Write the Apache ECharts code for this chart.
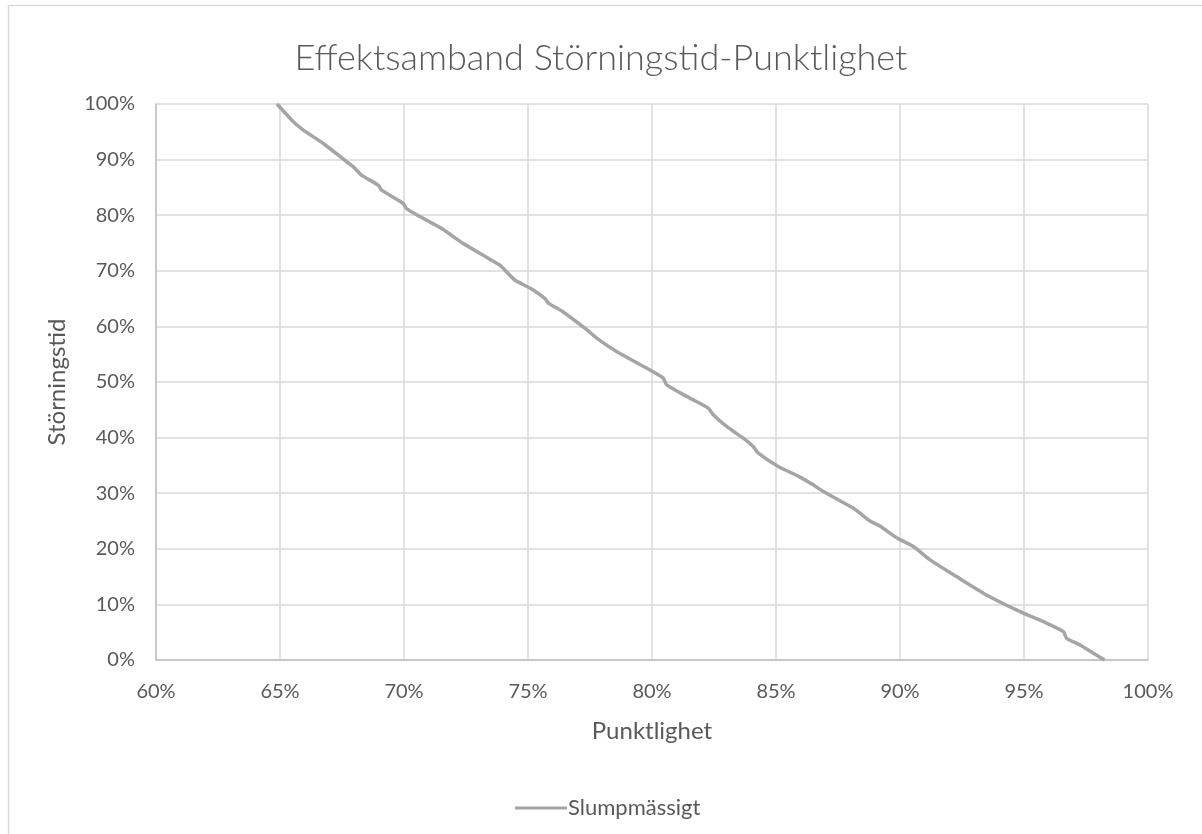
<!DOCTYPE html>
<html>
<head>
<meta charset="utf-8">
<script src="https://cdn.jsdelivr.net/npm/echarts@6/dist/echarts.min.js"></script>
<style>
html,body{margin:0;padding:0;background:#fff;}
#chart{width:1202px;height:834px;}
</style>
</head>
<body>
<div id="chart"></div>
<script>
const titleText = 'Effektsamband Störningstid-Punktlighet';
const xName = 'Punktlighet';
const yName = 'Störningstid';
const seriesName = 'Slumpmässigt';

const punktlighet = [64.88,65.54,65.94,66.75,67.69,67.96,68.29,68.96,69.10,69.97,70.10,70.78,71.52,72.39,73.87,74.14,74.48,75.08,75.69,75.82,76.42,77.37,77.77,78.57,79.78,80.45,80.59,81.53,82.27,82.47,83.01,83.68,84.08,84.29,85.09,85.97,86.50,86.91,88.12,88.39,88.79,89.19,89.86,90.54,91.21,92.28,93.49,94.84,95.78,96.59,96.72,97.26,97.80,98.25];
const storningstid = [100,96.8,95.3,92.9,89.6,88.7,87.2,85.4,84.5,82.1,81.2,79.4,77.6,74.9,71.0,69.8,68.3,66.9,65.0,64.2,62.6,59.4,57.9,55.5,52.5,50.7,49.5,47.1,45.3,44.1,42.0,39.9,38.4,37.2,34.8,32.9,31.5,30.3,27.3,26.4,25.0,24.1,22.0,20.4,18.0,15.0,11.7,8.7,6.9,5.1,3.9,2.7,1.2,0];

const xMin = 60, xMax = 100, xStep = 5;
const yMin = 0, yMax = 100, yStep = 10;

const FONT = 'Lato, "Open Sans", sans-serif';
const TXT = '#595959';

const chart = echarts.init(document.getElementById('chart'), null, {renderer: 'canvas'});
chart.setOption({
  animation: false,
  backgroundColor: '#ffffff',
  textStyle: {fontFamily: FONT},
  graphic: [{
    type: 'rect', silent: true, z: -1,
    shape: {x: 8.5, y: 5.5, width: 1400, height: 1000},
    style: {fill: 'none', stroke: '#d9d9d9', lineWidth: 1.5}
  }],
  title: {
    text: titleText,
    left: 'center',
    top: 35,
    textStyle: {fontFamily: FONT, fontSize: 36, fontWeight: 300, color: TXT}
  },
  legend: {
    data: [{name: seriesName, icon: 'rect'}],
    left: 510,
    top: 792,
    itemWidth: 52,
    itemHeight: 3,
    itemGap: 10,
    textStyle: {fontFamily: FONT, fontSize: 22, color: TXT, padding: [0,0,0,-4]}
  },
  grid: {left: 156, right: 54, top: 104, bottom: 174, containLabel: false},
  xAxis: {
    type: 'value',
    min: xMin, max: xMax, interval: xStep,
    name: xName, nameLocation: 'middle', nameGap: 59, nameMoveOverlap: false,
    nameTextStyle: {fontFamily: FONT, fontSize: 24, color: TXT},
    axisLine: {show: true, lineStyle: {color: '#bfbfbf', width: 1.5}},
    axisTick: {show: false},
    axisLabel: {formatter: '{value}%', fontFamily: FONT, fontSize: 20, color: TXT, margin: 22},
    splitLine: {show: true, lineStyle: {color: '#d9d9d9', width: 1.5}}
  },
  yAxis: {
    type: 'value',
    min: yMin, max: yMax, interval: yStep,
    name: yName, nameLocation: 'middle', nameGap: 87, nameRotate: 90, nameMoveOverlap: false,
    nameTextStyle: {fontFamily: FONT, fontSize: 24, color: TXT},
    axisLine: {show: true, lineStyle: {color: '#bfbfbf', width: 1.5}},
    axisTick: {show: false},
    axisLabel: {formatter: '{value}%', fontFamily: FONT, fontSize: 20, color: TXT, margin: 21},
    splitLine: {show: true, lineStyle: {color: '#d9d9d9', width: 1.5}}
  },
  series: [{
    name: seriesName,
    type: 'line',
    data: punktlighet.map((x, i) => [x, storningstid[i]]),
    symbol: 'none',
    smooth: 0.2,
    lineStyle: {color: '#a5a5a5', width: 3.5},
    itemStyle: {color: '#a5a5a5'}
  }]
});
</script>
</body>
</html>
